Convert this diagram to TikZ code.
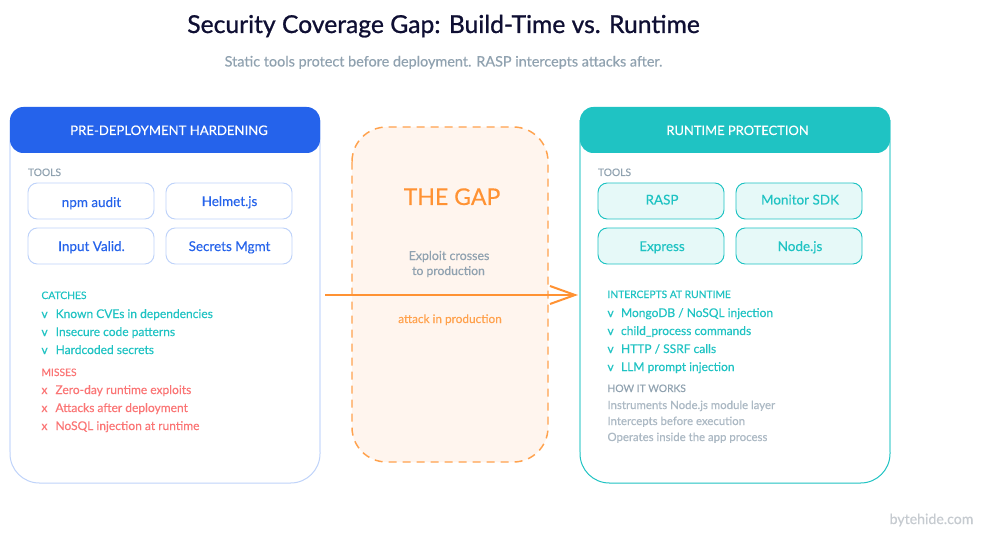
\documentclass[tikz,border=0pt]{standalone}
\usepackage{fontspec}
\setmainfont{Lato}[RawFeature={embolden=0.25}]
\newfontfamily\titlefont{Lato}[RawFeature={embolden=0.9}]
\usetikzlibrary{arrows.meta}
\definecolor{blueC}{HTML}{2563EB}
\definecolor{blueL}{HTML}{BFD3FA}
\definecolor{blueS}{HTML}{DCE7FD}
\definecolor{tealC}{HTML}{1FC3C3}
\definecolor{tealL}{HTML}{E6F9F8}
\definecolor{tealB}{HTML}{8FE1E1}
\definecolor{orangeC}{HTML}{FF9233}
\definecolor{orangeL}{HTML}{FFF5EE}
\definecolor{orangeT}{HTML}{FFA24D}
\definecolor{greyT}{HTML}{90A2B0}
\definecolor{redC}{HTML}{FB7575}
\definecolor{inkC}{HTML}{0F0F33}
\definecolor{brandC}{HTML}{C6CBD0}
\newcommand{\fs}[1]{\fontsize{#1}{#1}\selectfont}
\tikzset{
  x=0.75pt,y=-0.75pt,
  txt/.style={inner sep=0pt,outer sep=0pt,anchor=base west},
  ctr/.style={inner sep=0pt,outer sep=0pt,anchor=base},
  lab/.style={txt,font=\fs{7.7},text=greyT},
  item/.style={txt,font=\fs{9}},
  note/.style={txt,font=\fs{8.55},text=greyT!75!white},
  toolb/.style={draw=blueL,fill=white,line width=0.7pt,rounded corners=7pt},
  toolt/.style={draw=tealC,fill=tealL,line width=0.7pt,rounded corners=7pt},
  toolx/.style={ctr,font=\fs{10.1}},
  panel/.style={line width=0.75pt,fill=white,rounded corners=22pt},
  panelside/.style={line width=1.1pt},
  headr/.style={rounded corners=10pt},
  arrowl/.style={draw=orangeC,line width=1.5pt},
}
\begin{document}
\begin{tikzpicture}
\useasboundingbox (0,0) rectangle (984,538);
\fill[white] (0,0) rectangle (984,538);
% title
\node[ctr,font=\fs{18.5}\titlefont,text=inkC] (title) at (443.5,33) {Security Coverage Gap: Build-Time vs. Runtime};
\node[ctr,font=\fs{10.8},text=greyT] (sub) at (443.5,66.5) {Static tools protect before deployment. RASP intercepts attacks after.};
% left panel
\draw[panel,draw=blueL] (10,120) -- (10,483) -- (320,483) -- (320,120);
\draw[panelside,draw=blueS] (10,120) -- (10,452) (320,120) -- (320,452);
\fill[blueC,headr] (10,153) -- (10,107) -- (320,107) -- (320,153) -- cycle;
\node[ctr,font=\fs{9.85},text=white] (lh) at (169,135) {PRE-DEPLOYMENT HARDENING};
\node[lab] (lt) at (28,176) {TOOLS};
\foreach \nm/\x/\y/\t/\dy in {a/28/183/npm audit/24,b/166/183/Helmet.js/23,c/28/228/Input Valid./23,d/166/228/Secrets Mgmt/23}{
  \draw[toolb] (\x,\y) rectangle ++(126,36);
  \node[toolx,text=blueC] (lt\nm) at (\x+63.5,\y+\dy) {\t};
}
\node[lab,text=tealC] (lc) at (41.5,299) {CATCHES};
\node[item,text=tealC] (lc1) at (41.5,318) {v\hspace{6pt}Known CVEs in dependencies};
\node[item,text=tealC] (lc2) at (41.5,336) {v\hspace{6pt}Insecure code patterns};
\node[item,text=tealC] (lc3) at (41.5,354) {v\hspace{6pt}Hardcoded secrets};
\node[lab,text=redC] (lm) at (41.5,376) {MISSES};
\node[item,text=redC] (lm1) at (41.5,394) {x\hspace{6pt}Zero-day runtime exploits};
\node[item,text=redC] (lm2) at (41.5,412) {x\hspace{6pt}Attacks after deployment};
\node[item,text=redC] (lm3) at (41.5,430) {x\hspace{6pt}NoSQL injection at runtime};
% gap
\draw[orangeT,fill=orangeL,line width=1.1pt,dash pattern=on 6pt off 4.5pt,rounded corners=26pt] (352,127) rectangle (548,462);
\node[ctr,font=\fs{17.3},text=orangeC] (gap) at (452,205) {THE GAP};
\node[ctr,font=\fs{9.3},text=greyT] (g1) at (449,260) {Exploit crosses};
\node[ctr,font=\fs{9.1},text=greyT] (g2) at (448.5,275) {to production};
\node[ctr,font=\fs{8.85},text=orangeT] (g3) at (450,323) {attack in production};
\coordinate (as) at (325,295);
\coordinate (ae) at (575,295);
\coordinate (b1) at (550,286);
\coordinate (b2) at (550,304);
\draw[arrowl] (as) -- (ae);
\draw[arrowl,line join=miter] (b1) -- (ae) -- (b2);
% right panel
\draw[panel,draw=tealC] (580,120) -- (580,483) -- (890,483) -- (890,120);
\draw[panelside,draw=tealB] (580,120) -- (580,452) (890,120) -- (890,452);
\fill[tealC,headr] (580,153) -- (580,107) -- (890,107) -- (890,153) -- cycle;
\node[ctr,font=\fs{9.7},text=white] (rh) at (737.5,135) {RUNTIME PROTECTION};
\node[lab] (rt) at (598,176) {TOOLS};
\foreach \nm/\x/\y/\t/\dy in {a/598/183/RASP/21.5,b/736/183/Monitor SDK/21.5,c/598/228/Express/23,d/736/228/Node.js/23}{
  \draw[toolt] (\x,\y) rectangle ++(126,36);
  \node[toolx,text=tealC] (rt\nm) at (\x+64,\y+\dy) {\t};
}
\node[lab,text=tealC] (ri) at (607.5,298) {INTERCEPTS AT RUNTIME};
\node[item,text=tealC] (ri1) at (607.5,317) {v\hspace{5.5pt}MongoDB / NoSQL injection};
\node[item,text=tealC] (ri2) at (607.5,335) {v\hspace{5.5pt}child\_process commands};
\node[item,text=tealC] (ri3) at (607.5,353) {v\hspace{5.5pt}HTTP / SSRF calls};
\node[item,text=tealC] (ri4) at (607.5,371) {v\hspace{5.5pt}LLM prompt injection};
\node[lab] (rh2) at (607.5,392) {HOW IT WORKS};
\node[note] (rn1) at (607.5,409) {Instruments Node.js module layer};
\node[note] (rn2) at (607.5,425) {Intercepts before execution};
\node[note] (rn3) at (607.5,441) {Operates inside the app process};
\node[ctr,font=\fs{10.6},text=brandC] (brand) at (931.5,524) {bytehide.com};
\end{tikzpicture}
\end{document}
